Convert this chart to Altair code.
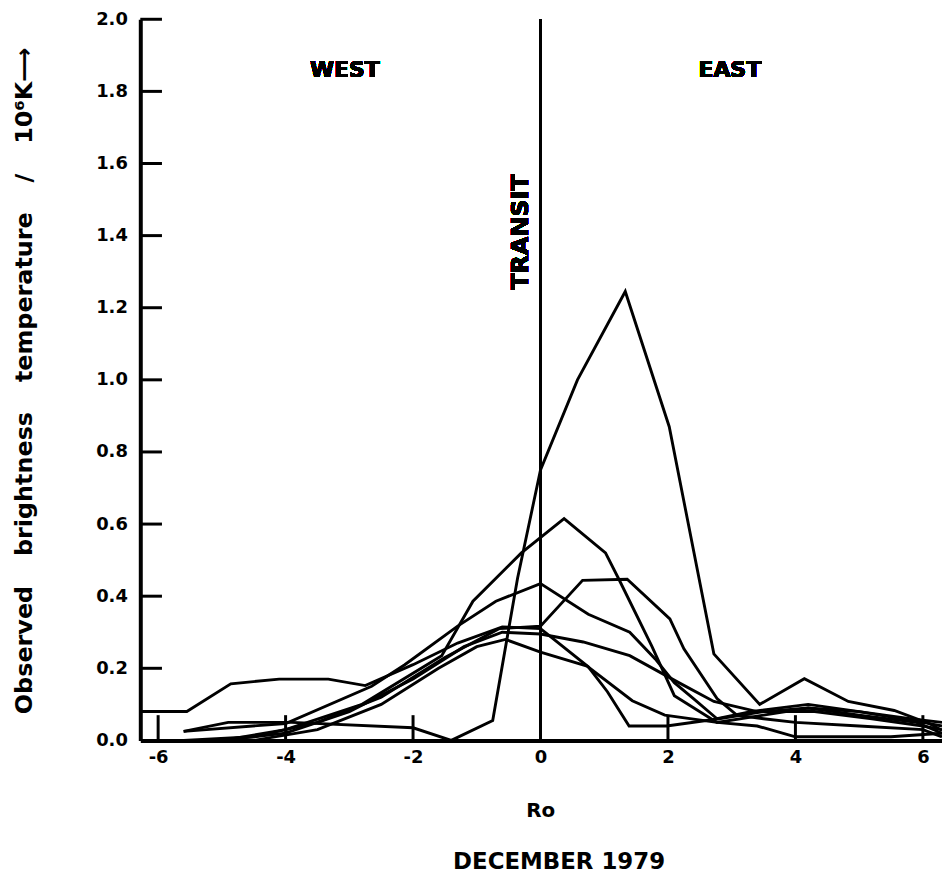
import altair as alt
import pandas as pd

# ---------------- data ----------------
curve_a_x = [-5.6, -4.9, -3.9, -2.0, -1.4, -0.75, -0.36, 0.0, 0.58, 1.33, 2.02, 2.72, 3.44, 4.14, 4.83, 5.55, 6.1, 6.3]
curve_a_y = [0.025, 0.05, 0.05, 0.035, 0.0, 0.055, 0.45, 0.75, 1.0, 1.245, 0.87, 0.24, 0.10, 0.171, 0.108, 0.083, 0.047, 0.028]

curve_b_x = [-5.0, -4.0, -2.8, -1.55, -1.06, -0.3, 0.37, 1.02, 1.23, 1.75, 2.1, 2.77, 3.5, 4.2, 5.0, 5.9, 6.3]
curve_b_y = [0.0, 0.03, 0.1, 0.235, 0.386, 0.52, 0.615, 0.52, 0.447, 0.26, 0.124, 0.05, 0.07, 0.09, 0.07, 0.05, 0.02]

curve_c_x = [-5.6, -4.0, -2.65, -2.13, -1.3, -0.7, 0.0, 0.75, 1.4, 1.8, 2.1, 2.4, 2.77, 3.3, 4.2, 5.0, 6.0, 6.3]
curve_c_y = [0.025, 0.047, 0.15, 0.21, 0.317, 0.386, 0.435, 0.35, 0.30, 0.226, 0.16, 0.116, 0.06, 0.08, 0.10, 0.08, 0.05, 0.04]

curve_d_x = [-5.6, -4.5, -3.5, -2.5, -1.5, -0.65, 0.0, 0.66, 1.36, 2.03, 2.25, 2.77, 3.08, 3.5, 4.0, 5.0, 6.0, 6.3]
curve_d_y = [0.0, 0.01, 0.05, 0.12, 0.23, 0.31, 0.317, 0.444, 0.447, 0.337, 0.254, 0.116, 0.07, 0.06, 0.05, 0.04, 0.03, 0.01]

curve_e_x = [-5.0, -4.0, -3.0, -2.0, -1.2, -0.6, 0.0, 0.67, 1.4, 2.14, 2.72, 3.4, 4.3, 5.2, 6.0, 6.3]
curve_e_y = [0.0, 0.02, 0.08, 0.17, 0.26, 0.30, 0.295, 0.273, 0.235, 0.163, 0.108, 0.08, 0.08, 0.06, 0.04, 0.03]

curve_f_x = [-6.28, -5.55, -4.86, -4.1, -3.33, -2.75, -2.0, -1.3, -0.6, 0.0, 0.75, 1.05, 1.39, 1.98, 2.8, 3.5, 4.2, 5.0, 5.8, 6.3]
curve_f_y = [0.08, 0.08, 0.157, 0.17, 0.17, 0.152, 0.21, 0.27, 0.315, 0.31, 0.204, 0.135, 0.04, 0.04, 0.06, 0.08, 0.09, 0.08, 0.06, 0.05]

curve_g_x = [-4.5, -3.5, -2.5, -1.6, -1.0, -0.55, 0.0, 0.73, 1.44, 1.95, 2.77, 3.4, 4.0, 5.5, 6.3]
curve_g_y = [0.0, 0.03, 0.1, 0.2, 0.26, 0.28, 0.245, 0.206, 0.11, 0.07, 0.05, 0.04, 0.01, 0.01, 0.02]

x_tick_values = [-6, -4, -2, 0, 2, 4, 6]
x_inner_ticks = [-6, -4, -2, 2, 4, 6]
y_tick_values = [0.0, 0.2, 0.4, 0.6, 0.8, 1.0, 1.2, 1.4, 1.6, 1.8, 2.0]
y_inner_ticks = [0.2, 0.4, 0.6, 0.8, 1.0, 1.2, 1.4, 1.6, 1.8, 2.0]

# ---------------- tables ----------------
curves = {
    "A": (curve_a_x, curve_a_y),
    "B": (curve_b_x, curve_b_y),
    "C": (curve_c_x, curve_c_y),
    "D": (curve_d_x, curve_d_y),
    "E": (curve_e_x, curve_e_y),
    "F": (curve_f_x, curve_f_y),
    "G": (curve_g_x, curve_g_y),
}
rows = []
for name, (xs, ys) in curves.items():
    for i, (xv, yv) in enumerate(zip(xs, ys)):
        rows.append({"series": name, "idx": i, "ro": xv, "tb": yv})
df = pd.DataFrame(rows)
xt = pd.DataFrame({"ro": x_inner_ticks})
yt = pd.DataFrame({"tb": y_inner_ticks})

FONT = "DejaVu Sans"
xscale = alt.Scale(domain=[-6.28, 6.3], nice=False, zero=False)
yscale = alt.Scale(domain=[0, 2.0], nice=False, zero=False)

GAP = "\u2003\u2005"
ytitle = "Observed" + GAP + "brightness" + GAP + "temperature" + GAP + "/" + GAP + "10\u2076K\u27f6"

lines = alt.Chart(df).mark_line(color="black", strokeWidth=2.9, strokeJoin="miter").encode(
    x=alt.X("ro:Q", scale=xscale, axis=alt.Axis(
        values=x_tick_values,
        labelExpr="datum.value < 0 ? '-' + (-datum.value) : '' + datum.value",
        labelFont=FONT, labelFontSize=18, labelFontWeight="bold", labelColor="black",
        labelPadding=8, ticks=False, tickSize=0, grid=False,
        domainColor="black", domainWidth=4,
        title="Ro", titleFont=FONT, titleFontSize=20, titleFontWeight="bold", titleColor="black",
        titleX=402, titleY=71, titleBaseline="middle", titleAlign="center",
    )),
    y=alt.Y("tb:Q", scale=yscale, axis=alt.Axis(
        values=y_tick_values, format=".1f",
        labelFont=FONT, labelFontSize=18, labelFontWeight="bold", labelColor="black",
        labelPadding=13, ticks=False, tickSize=0, grid=False,
        domainColor="black", domainWidth=4,
        title=ytitle, titleFont=FONT, titleFontSize=24, titleFontWeight="bold", titleColor="black",
        titleAngle=270, titleX=-116, titleY=363, titleBaseline="middle", titleAlign="center",
    )),
    detail="series:N",
    order="idx:Q",
)

transit = alt.Chart(df).mark_rule(color="black", strokeWidth=2).encode(
    x=alt.datum(0), y=alt.datum(0.0), y2=alt.datum(2.0)
)

xticks = alt.Chart(xt).mark_rule(color="black", strokeWidth=3).encode(
    x="ro:Q", y=alt.datum(0.0), y2=alt.datum(0.07)
)

yticks = alt.Chart(yt).mark_rule(color="black", strokeWidth=3).encode(
    y="tb:Q", x=alt.datum(-6.28), x2=alt.datum(-5.94)
)

west = alt.Chart(df).mark_text(text="WEST", font=FONT, fontSize=22, fontWeight="bold",
                               color="black", align="center", baseline="middle").encode(
    x=alt.datum(-3.07), y=alt.datum(1.86)
)
east = alt.Chart(df).mark_text(text="EAST", font=FONT, fontSize=22, fontWeight="bold",
                               color="black", align="center", baseline="middle").encode(
    x=alt.datum(2.97), y=alt.datum(1.86)
)
transit_lbl = alt.Chart(df).mark_text(text="TRANSIT", font=FONT, fontSize=24, fontWeight="bold",
                                      color="black", align="center", baseline="middle",
                                      angle=270).encode(
    x=alt.datum(-0.31), y=alt.datum(1.41)
)

chart = alt.layer(lines, transit, xticks, yticks, west, east, transit_lbl).properties(
    width=806, height=725,
    autosize="none",
    padding={"left": 133, "top": 9, "right": 0, "bottom": 137},
    title=alt.TitleParams("DECEMBER 1979", orient="bottom", anchor="middle",
                          font=FONT, fontSize=23, fontWeight="bold", color="black",
                          offset=30, dx=18),
).configure(background="white").configure_view(stroke=None).configure_axis(grid=False)

chart.save("out.html", embed_options={"renderer": "svg", "actions": False})
